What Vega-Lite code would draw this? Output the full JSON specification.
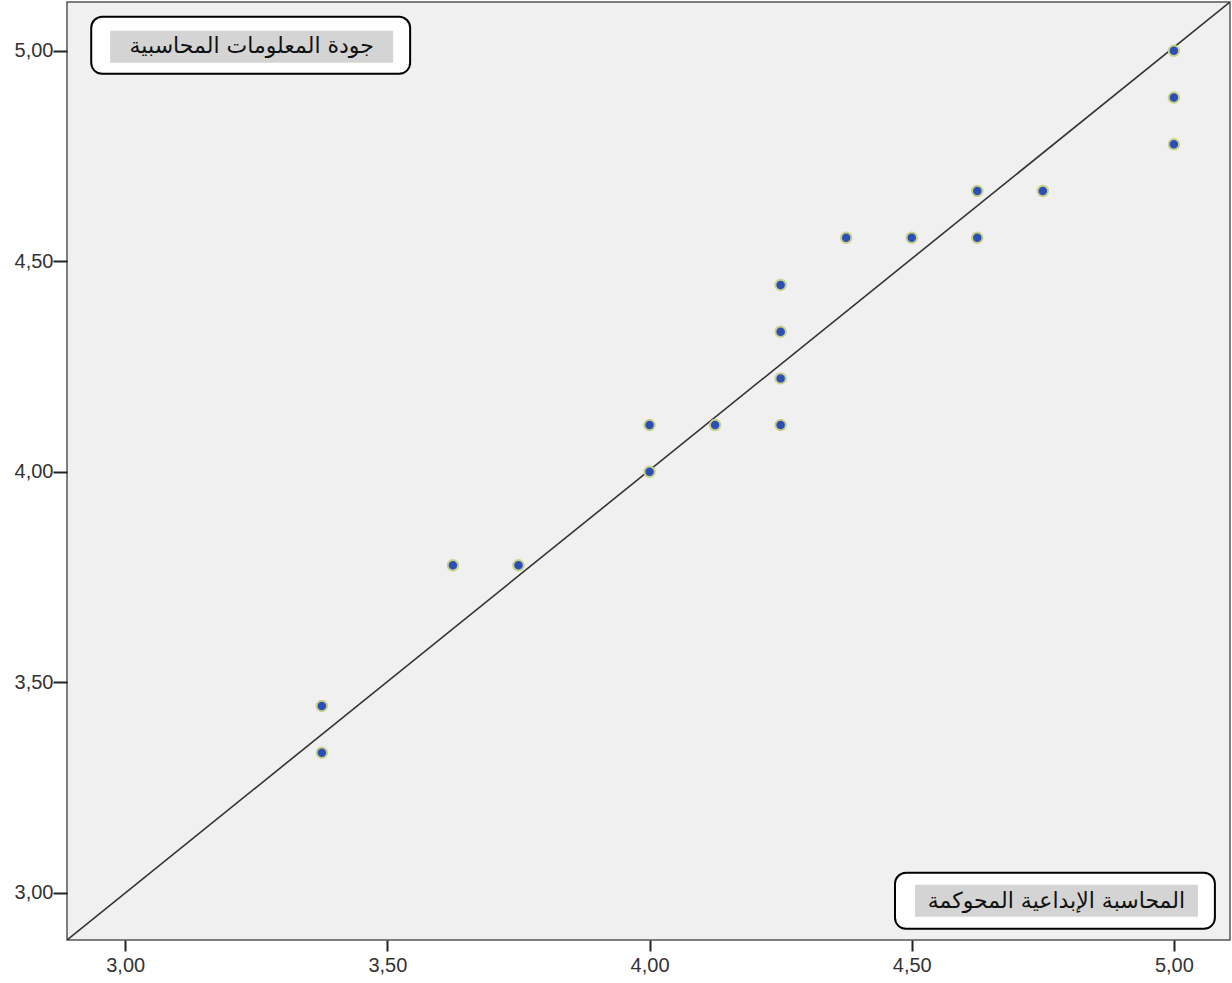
{
  "$schema": "https://vega.github.io/schema/vega-lite/v6.json",
  "autosize": "none",
  "width": 1163,
  "height": 938,
  "padding": {"left": 67, "top": 2, "right": 2, "bottom": 43},
  "background": "white",
  "config": {
    "view": {"fill": "#f0f0f0", "stroke": "#555555", "strokeWidth": 1.5}
  },
  "layer": [
    {
      "data": {"values": [{"x": 2.889, "y": 2.888}, {"x": 5.107, "y": 5.116}]},
      "mark": {"type": "line", "color": "#333333", "strokeWidth": 1.6, "clip": true},
      "encoding": {
        "x": {"field": "x", "type": "quantitative", "scale": {"domain": [2.889, 5.107], "nice": false, "zero": false},
          "axis": {"values": [3, 3.5, 4, 4.5, 5], "labelExpr": "replace(format(datum.value, '.2f'), '.', ',')", "labelPadding": 4,
            "grid": false, "domain": false, "tickColor": "#222222", "tickSize": 11, "tickWidth": 2,
            "labelFont": "Liberation Sans", "labelFontSize": 20, "labelColor": "#333333", "title": null}},
        "y": {"field": "y", "type": "quantitative", "scale": {"domain": [2.888, 5.116], "nice": false, "zero": false},
          "axis": {"values": [3, 3.5, 4, 4.5, 5], "labelExpr": "replace(format(datum.value, '.2f'), '.', ',')", "labelPadding": 0,
            "grid": false, "domain": false, "tickColor": "#222222", "tickSize": 14, "tickWidth": 2,
            "labelFont": "Liberation Sans", "labelFontSize": 20, "labelColor": "#333333", "title": null}}
      }
    },
    {
      "data": {"values": [
        {"x": 3.375, "y": 3.444}, {"x": 3.375, "y": 3.333}, {"x": 3.625, "y": 3.778}, {"x": 3.75, "y": 3.778},
        {"x": 4.0, "y": 4.111}, {"x": 4.0, "y": 4.0}, {"x": 4.125, "y": 4.111},
        {"x": 4.25, "y": 4.444}, {"x": 4.25, "y": 4.333}, {"x": 4.25, "y": 4.222}, {"x": 4.25, "y": 4.111},
        {"x": 4.375, "y": 4.556}, {"x": 4.5, "y": 4.556}, {"x": 4.625, "y": 4.667}, {"x": 4.625, "y": 4.556},
        {"x": 4.75, "y": 4.667}, {"x": 5.0, "y": 5.0}, {"x": 5.0, "y": 4.889}, {"x": 5.0, "y": 4.778}
      ]},
      "mark": {"type": "point", "filled": true, "shape": "circle", "size": 110, "fill": "#2b4fb5", "stroke": "#c8d08a", "strokeWidth": 2, "opacity": 1},
      "encoding": {
        "x": {"field": "x", "type": "quantitative"},
        "y": {"field": "y", "type": "quantitative"}
      }
    },
    {
      "data": {"values": [{"label": "جودة المعلومات المحاسبية"}]},
      "layer": [
        {"mark": {"type": "rect", "fill": "white", "stroke": "black", "strokeWidth": 2, "cornerRadius": 11},
         "encoding": {"x": {"datum": 2.9352, "type": "quantitative"}, "x2": {"datum": 3.5434}, "y": {"datum": 5.0808, "type": "quantitative"}, "y2": {"datum": 4.9454}}},
        {"mark": {"type": "rect", "fill": "#d4d4d4"},
         "encoding": {"x": {"datum": 2.9714, "type": "quantitative"}, "x2": {"datum": 3.511}, "y": {"datum": 5.0475, "type": "quantitative"}, "y2": {"datum": 4.9715}}},
        {"mark": {"type": "text", "font": "DejaVu Sans", "fontSize": 22, "color": "#111111", "align": "center", "baseline": "middle"},
         "encoding": {"x": {"datum": 3.2412, "type": "quantitative"}, "y": {"datum": 5.011, "type": "quantitative"}, "text": {"field": "label"}}}
      ]
    },
    {
      "data": {"values": [{"label": "المحاسبة الإبداعية المحوكمة"}]},
      "layer": [
        {"mark": {"type": "rect", "fill": "white", "stroke": "black", "strokeWidth": 2, "cornerRadius": 11},
         "encoding": {"x": {"datum": 4.4681, "type": "quantitative"}, "x2": {"datum": 5.0782}, "y": {"datum": 3.0475, "type": "quantitative"}, "y2": {"datum": 2.9145}}},
        {"mark": {"type": "rect", "fill": "#d4d4d4"},
         "encoding": {"x": {"datum": 4.5062, "type": "quantitative"}, "x2": {"datum": 5.0458}, "y": {"datum": 3.019, "type": "quantitative"}, "y2": {"datum": 2.943}}},
        {"mark": {"type": "text", "font": "DejaVu Sans", "fontSize": 22, "color": "#111111", "align": "center", "baseline": "middle"},
         "encoding": {"x": {"datum": 4.776, "type": "quantitative"}, "y": {"datum": 2.981, "type": "quantitative"}, "text": {"field": "label"}}}
      ]
    }
  ]
}
